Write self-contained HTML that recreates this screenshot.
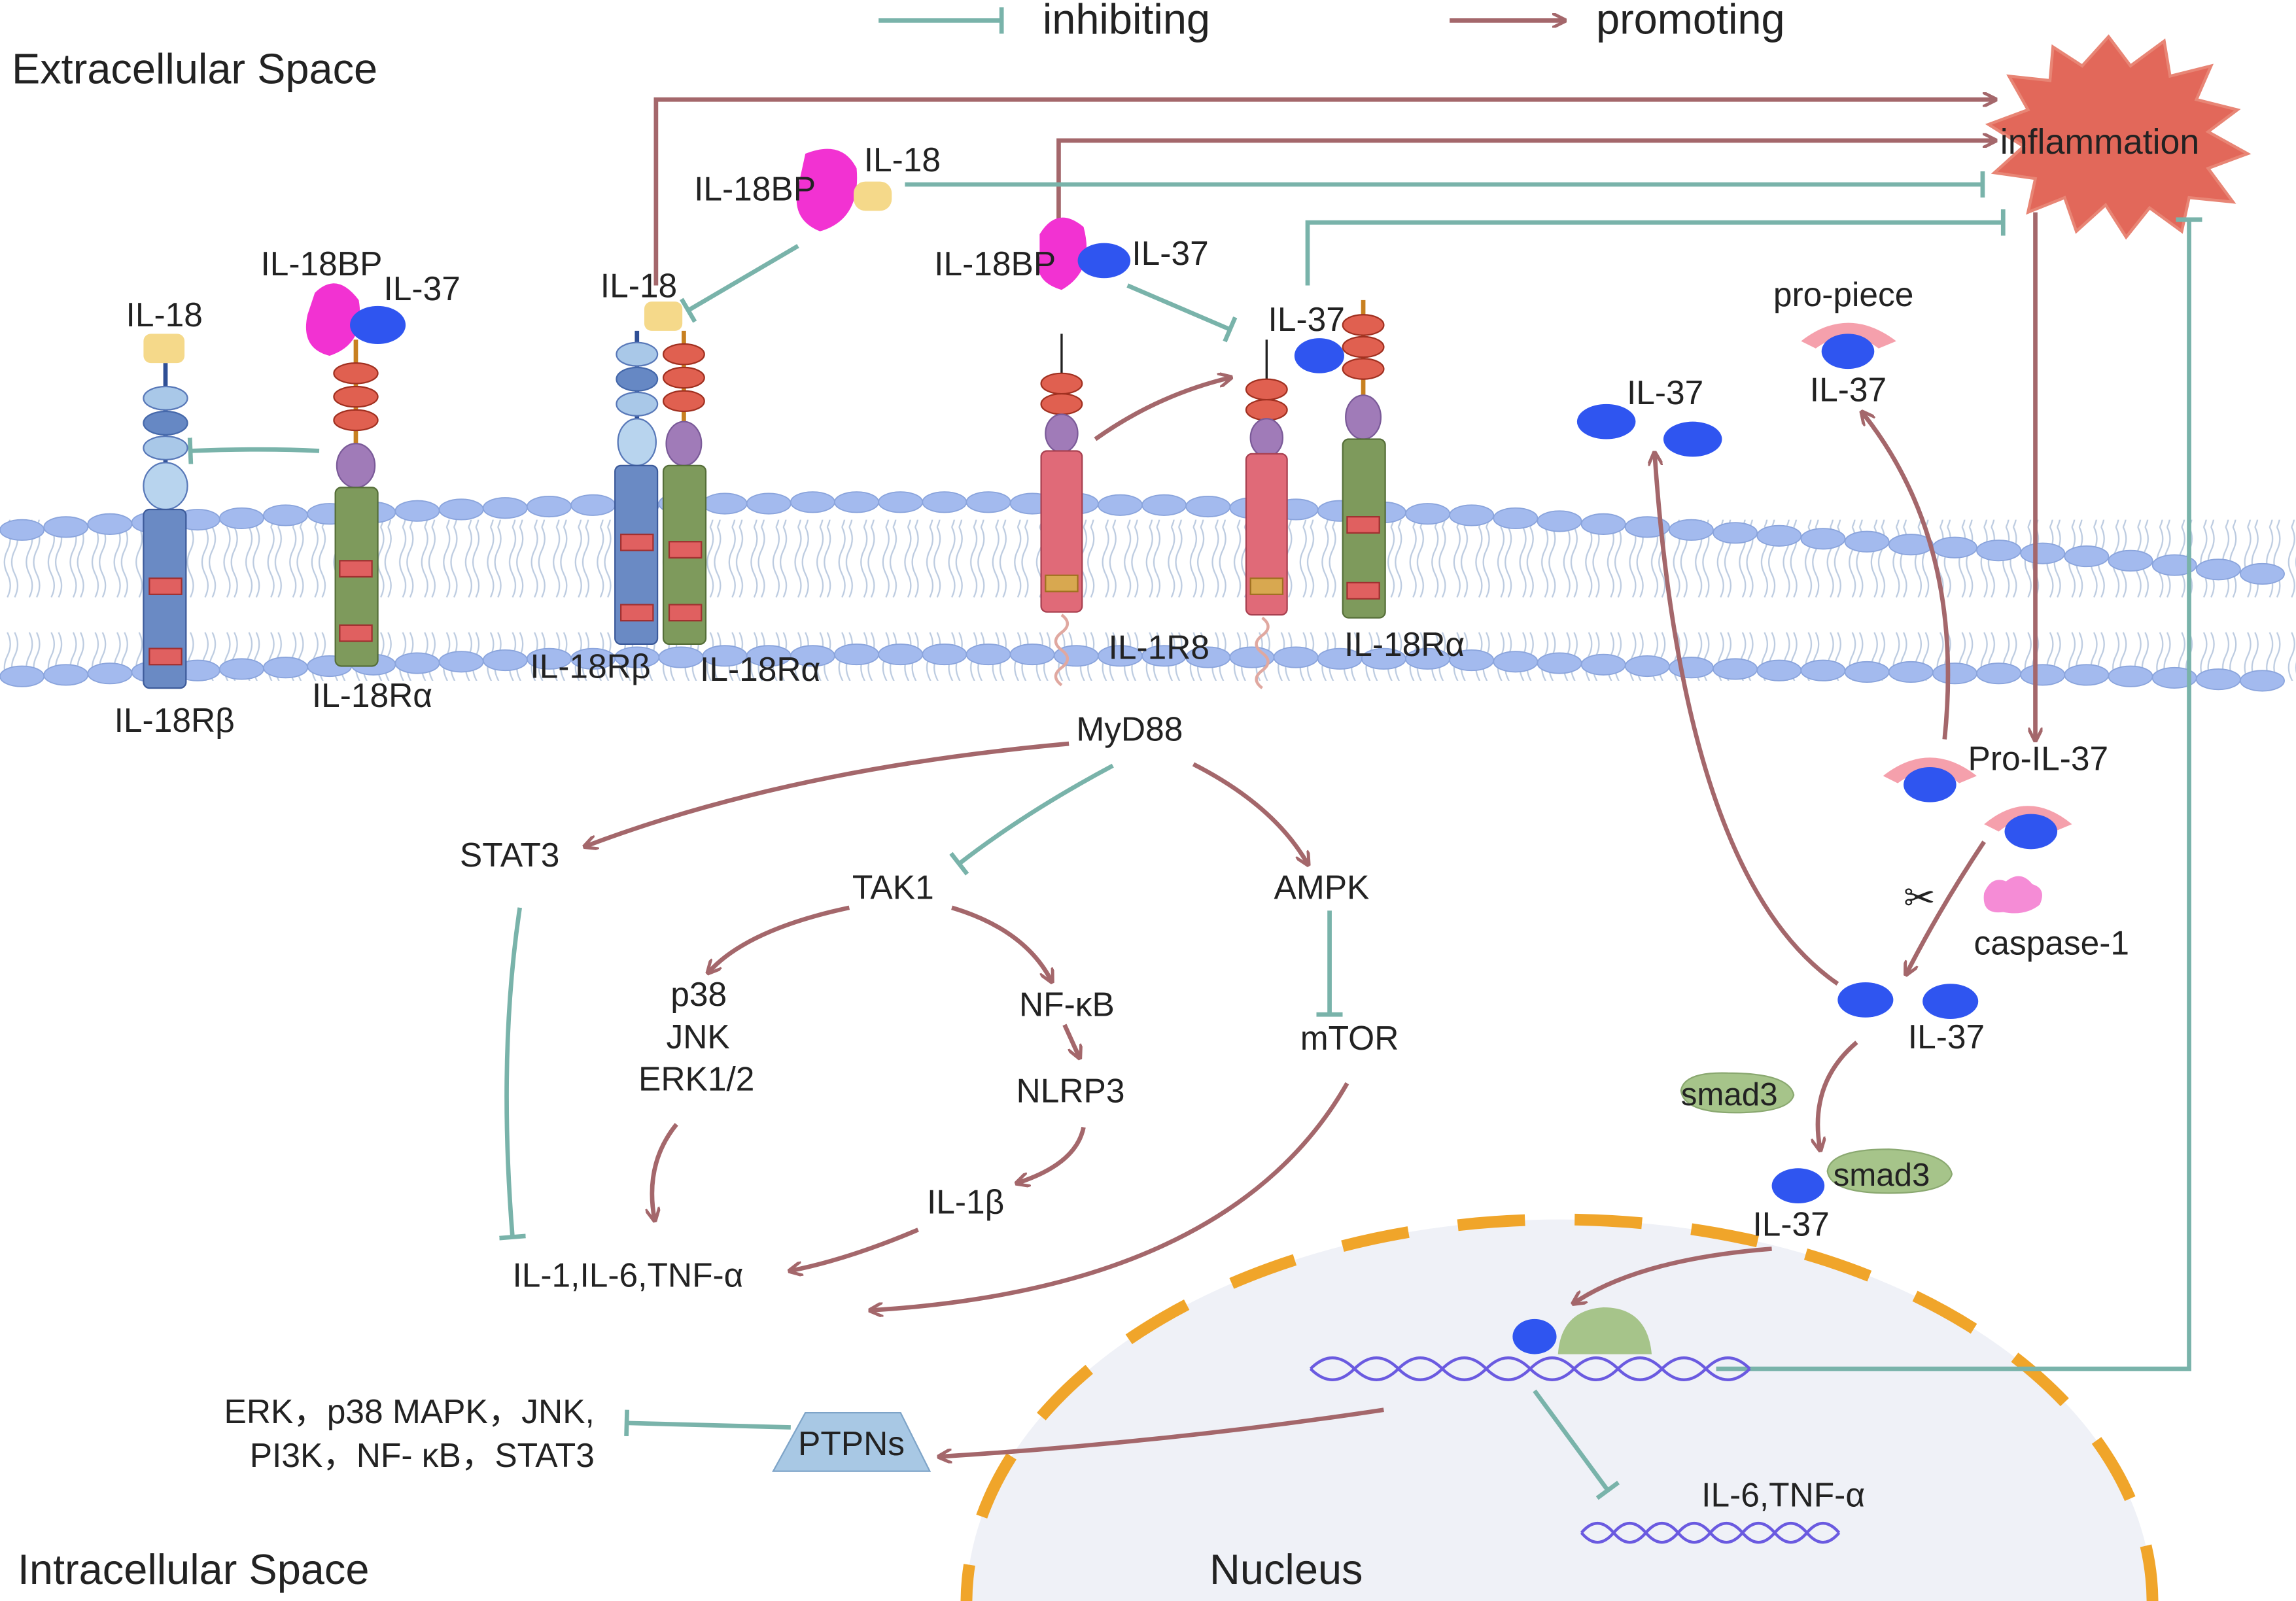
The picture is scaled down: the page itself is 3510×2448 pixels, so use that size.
<!DOCTYPE html>
<html><head><meta charset="utf-8"><style>
html,body{margin:0;padding:0;background:#fff;overflow:hidden;width:3510px;height:2448px;}
svg{display:block;}
text{font-family:"Liberation Sans",sans-serif;fill:#222;}
</style></head><body>
<svg width="3510" height="2448" viewBox="0 0 1568 1093.6" xmlns="http://www.w3.org/2000/svg">
<defs>
<marker id="pa" markerWidth="10" markerHeight="10" refX="8" refY="5" orient="auto" markerUnits="userSpaceOnUse" viewBox="0 0 10 10"><path d="M0,0 L10,5 L0,10" fill="none" stroke="#a4676b" stroke-width="2.2"/></marker>
<marker id="ia" markerWidth="4" markerHeight="18" refX="2" refY="9" orient="auto" markerUnits="userSpaceOnUse"><line x1="2" y1="0" x2="2" y2="18" stroke="#79b3aa" stroke-width="3"/></marker>
<pattern id="mem" width="15" height="120" patternUnits="userSpaceOnUse">
<path d="M5,0 q4,8 0,16 q-4,8 0,16 q4,8 0,16 M10,0 q4,8 0,16 q-4,8 0,16 q4,8 0,16 M5,72 q4,8 0,16 q-4,8 0,16 q4,8 0,16 M10,72 q4,8 0,16 q-4,8 0,16 q4,8 0,16" stroke="#bccbe0" stroke-width="1" fill="none"/>
</pattern>
</defs>
<rect width="1568" height="1094" fill="#fff"/>
<!-- membrane -->
<rect x="0" y="355" width="1568" height="110" fill="url(#mem)"/>
<g fill="#a3baee" stroke="#8aa4dc" stroke-width="0.8">
<ellipse cx="15" cy="362" rx="15" ry="7"/><ellipse cx="45" cy="360" rx="15" ry="7"/><ellipse cx="75" cy="358" rx="15" ry="7"/><ellipse cx="105" cy="357" rx="15" ry="7"/><ellipse cx="135" cy="355" rx="15" ry="7"/><ellipse cx="165" cy="354" rx="15" ry="7"/><ellipse cx="195" cy="352" rx="15" ry="7"/><ellipse cx="225" cy="351" rx="15" ry="7"/><ellipse cx="255" cy="350" rx="15" ry="7"/><ellipse cx="285" cy="349" rx="15" ry="7"/><ellipse cx="315" cy="348" rx="15" ry="7"/><ellipse cx="345" cy="347" rx="15" ry="7"/><ellipse cx="375" cy="346" rx="15" ry="7"/><ellipse cx="405" cy="345" rx="15" ry="7"/><ellipse cx="435" cy="345" rx="15" ry="7"/><ellipse cx="465" cy="344" rx="15" ry="7"/><ellipse cx="495" cy="344" rx="15" ry="7"/><ellipse cx="525" cy="344" rx="15" ry="7"/><ellipse cx="555" cy="343" rx="15" ry="7"/><ellipse cx="585" cy="343" rx="15" ry="7"/><ellipse cx="615" cy="343" rx="15" ry="7"/><ellipse cx="645" cy="343" rx="15" ry="7"/><ellipse cx="675" cy="343" rx="15" ry="7"/><ellipse cx="705" cy="344" rx="15" ry="7"/><ellipse cx="735" cy="344" rx="15" ry="7"/><ellipse cx="765" cy="345" rx="15" ry="7"/><ellipse cx="795" cy="345" rx="15" ry="7"/><ellipse cx="825" cy="346" rx="15" ry="7"/><ellipse cx="855" cy="347" rx="15" ry="7"/><ellipse cx="885" cy="348" rx="15" ry="7"/><ellipse cx="915" cy="349" rx="15" ry="7"/><ellipse cx="945" cy="350" rx="15" ry="7"/><ellipse cx="975" cy="351" rx="15" ry="7"/><ellipse cx="1005" cy="352" rx="15" ry="7"/><ellipse cx="1035" cy="354" rx="15" ry="7"/><ellipse cx="1065" cy="356" rx="15" ry="7"/><ellipse cx="1095" cy="358" rx="15" ry="7"/><ellipse cx="1125" cy="360" rx="15" ry="7"/><ellipse cx="1155" cy="362" rx="15" ry="7"/><ellipse cx="1185" cy="364" rx="15" ry="7"/><ellipse cx="1215" cy="366" rx="15" ry="7"/><ellipse cx="1245" cy="368" rx="15" ry="7"/><ellipse cx="1275" cy="370" rx="15" ry="7"/><ellipse cx="1305" cy="372" rx="15" ry="7"/><ellipse cx="1335" cy="374" rx="15" ry="7"/><ellipse cx="1365" cy="376" rx="15" ry="7"/><ellipse cx="1395" cy="378" rx="15" ry="7"/><ellipse cx="1425" cy="380" rx="15" ry="7"/><ellipse cx="1455" cy="383" rx="15" ry="7"/><ellipse cx="1485" cy="386" rx="15" ry="7"/><ellipse cx="1515" cy="389" rx="15" ry="7"/><ellipse cx="1545" cy="392" rx="15" ry="7"/>
<ellipse cx="15" cy="462" rx="15" ry="7"/><ellipse cx="45" cy="461" rx="15" ry="7"/><ellipse cx="75" cy="460" rx="15" ry="7"/><ellipse cx="105" cy="459" rx="15" ry="7"/><ellipse cx="135" cy="458" rx="15" ry="7"/><ellipse cx="165" cy="457" rx="15" ry="7"/><ellipse cx="195" cy="456" rx="15" ry="7"/><ellipse cx="225" cy="455" rx="15" ry="7"/><ellipse cx="255" cy="454" rx="15" ry="7"/><ellipse cx="285" cy="453" rx="15" ry="7"/><ellipse cx="315" cy="452" rx="15" ry="7"/><ellipse cx="345" cy="451" rx="15" ry="7"/><ellipse cx="375" cy="450" rx="15" ry="7"/><ellipse cx="405" cy="450" rx="15" ry="7"/><ellipse cx="435" cy="449" rx="15" ry="7"/><ellipse cx="465" cy="449" rx="15" ry="7"/><ellipse cx="495" cy="448" rx="15" ry="7"/><ellipse cx="525" cy="448" rx="15" ry="7"/><ellipse cx="555" cy="448" rx="15" ry="7"/><ellipse cx="585" cy="447" rx="15" ry="7"/><ellipse cx="615" cy="447" rx="15" ry="7"/><ellipse cx="645" cy="447" rx="15" ry="7"/><ellipse cx="675" cy="447" rx="15" ry="7"/><ellipse cx="705" cy="447" rx="15" ry="7"/><ellipse cx="735" cy="448" rx="15" ry="7"/><ellipse cx="765" cy="448" rx="15" ry="7"/><ellipse cx="795" cy="448" rx="15" ry="7"/><ellipse cx="825" cy="449" rx="15" ry="7"/><ellipse cx="855" cy="449" rx="15" ry="7"/><ellipse cx="885" cy="449" rx="15" ry="7"/><ellipse cx="915" cy="450" rx="15" ry="7"/><ellipse cx="945" cy="450" rx="15" ry="7"/><ellipse cx="975" cy="450" rx="15" ry="7"/><ellipse cx="1005" cy="451" rx="15" ry="7"/><ellipse cx="1035" cy="452" rx="15" ry="7"/><ellipse cx="1065" cy="453" rx="15" ry="7"/><ellipse cx="1095" cy="454" rx="15" ry="7"/><ellipse cx="1125" cy="455" rx="15" ry="7"/><ellipse cx="1155" cy="456" rx="15" ry="7"/><ellipse cx="1185" cy="457" rx="15" ry="7"/><ellipse cx="1215" cy="458" rx="15" ry="7"/><ellipse cx="1245" cy="458" rx="15" ry="7"/><ellipse cx="1275" cy="459" rx="15" ry="7"/><ellipse cx="1305" cy="459" rx="15" ry="7"/><ellipse cx="1335" cy="460" rx="15" ry="7"/><ellipse cx="1365" cy="460" rx="15" ry="7"/><ellipse cx="1395" cy="461" rx="15" ry="7"/><ellipse cx="1425" cy="461" rx="15" ry="7"/><ellipse cx="1455" cy="462" rx="15" ry="7"/><ellipse cx="1485" cy="463" rx="15" ry="7"/><ellipse cx="1515" cy="464" rx="15" ry="7"/><ellipse cx="1545" cy="465" rx="15" ry="7"/>
</g>
<!-- nucleus -->
<ellipse cx="1065" cy="1095" rx="405" ry="262" fill="#eff1f7" stroke="#f0a52a" stroke-width="8" stroke-dasharray="46,34"/>
<!-- legend -->
<line x1="600" y1="14" x2="684" y2="14" stroke="#79b3aa" stroke-width="3" marker-end="url(#ia)"/>
<text x="712" y="23" font-size="29">inhibiting</text>
<line x1="990" y1="14" x2="1068" y2="14" stroke="#a4676b" stroke-width="3" marker-end="url(#pa)"/>
<text x="1090" y="23" font-size="29">promoting</text>
<text x="8" y="57" font-size="29">Extracellular Space</text>
<text x="12" y="1082" font-size="29">Intracellular Space</text>
<text x="826" y="1082" font-size="29">Nucleus</text>
<!-- inflammation -->
<path d="M1440,25 L1455,45 L1478,28 L1482,52 L1510,45 L1500,68 L1528,75 L1508,90 L1535,105 L1508,115 L1525,138 L1495,135 L1490,158 L1468,142 L1452,162 L1438,140 L1418,158 L1410,135 L1385,145 L1390,122 L1362,118 L1382,100 L1358,85 L1385,75 L1372,52 L1400,55 L1402,32 L1422,45 Z" fill="#e2685a" stroke="#e88575" stroke-width="2"/>
<text x="1366" y="105" font-size="24">inflammation</text>
<!-- top connectors -->
<g fill="none" stroke-width="3">
<path d="M448,195 V68 H1362" stroke="#a4676b" marker-end="url(#pa)"/>
<path d="M723,150 V96 H1362" stroke="#a4676b" marker-end="url(#pa)"/>
<path d="M618,126 H1354" stroke="#79b3aa" marker-end="url(#ia)"/>
<path d="M893,195 V152 H1368" stroke="#79b3aa" marker-end="url(#ia)"/>
<path d="M1172,935 H1495 V150" stroke="#79b3aa" marker-end="url(#ia)"/>
<path d="M1390,145 V505" stroke="#a4676b" marker-end="url(#pa)"/>
<path d="M545,168 L470,212" stroke="#79b3aa" marker-end="url(#ia)"/>
<path d="M770,195 L840,225" stroke="#79b3aa" marker-end="url(#ia)"/>
<path d="M218,308 Q180,306 130,308" stroke="#79b3aa" marker-end="url(#ia)"/>
<path d="M748,300 Q790,270 840,258" stroke="#a4676b" marker-end="url(#pa)"/>
</g>
<!-- receptor 1 -->
<g>
<line x1="113" y1="248" x2="113" y2="350" stroke="#2f4f95" stroke-width="3"/>
<rect x="98" y="228" width="28" height="20" rx="5" fill="#f5d98a"/>
<ellipse cx="113" cy="272" rx="15" ry="8" fill="#a9c8e8" stroke="#5878b8"/>
<ellipse cx="113" cy="289" rx="15" ry="8" fill="#6688c4" stroke="#4568aa"/>
<ellipse cx="113" cy="306" rx="15" ry="8" fill="#a9c8e8" stroke="#5878b8"/>
<ellipse cx="113" cy="332" rx="15" ry="16" fill="#b8d4ee" stroke="#5878b8"/>
<rect x="98" y="348" width="29" height="122" rx="4" fill="#6a8ac4" stroke="#3c5a9a"/>
<rect x="102" y="395" width="22" height="11" fill="#e06060" stroke="#a03030"/>
<rect x="102" y="443" width="22" height="11" fill="#e06060" stroke="#a03030"/>
</g>
<text x="86" y="223" font-size="23">IL-18</text>
<text x="78" y="500" font-size="23">IL-18Rβ</text>
<!-- receptor 2 -->
<g>
<line x1="243" y1="232" x2="243" y2="330" stroke="#c88020" stroke-width="3"/>
<path d="M215,200 Q230,185 245,205 Q250,235 225,243 Q205,238 210,215Z" fill="#f232d2"/>
<ellipse cx="258" cy="222" rx="19" ry="13" fill="#2f55f0"/>
<ellipse cx="243" cy="255" rx="15" ry="7" fill="#e06050" stroke="#a03020"/>
<ellipse cx="243" cy="271" rx="15" ry="7" fill="#e06050" stroke="#a03020"/>
<ellipse cx="243" cy="287" rx="15" ry="7" fill="#e06050" stroke="#a03020"/>
<ellipse cx="243" cy="318" rx="13" ry="15" fill="#a07bb8" stroke="#7a5a98"/>
<rect x="229" y="333" width="29" height="122" rx="4" fill="#7e9a5c" stroke="#556e38"/>
<rect x="232" y="383" width="22" height="11" fill="#e06060" stroke="#a03030"/>
<rect x="232" y="427" width="22" height="11" fill="#e06060" stroke="#a03030"/>
</g>
<text x="178" y="188" font-size="23">IL-18BP</text>
<text x="262" y="205" font-size="23">IL-37</text>
<text x="213" y="483" font-size="23">IL-18Rα</text>
<!-- receptor 3 -->
<g>
<rect x="440" y="206" width="26" height="20" rx="5" fill="#f5d98a"/>
<line x1="435" y1="226" x2="435" y2="320" stroke="#2f4f95" stroke-width="3"/>
<line x1="467" y1="226" x2="467" y2="320" stroke="#c88020" stroke-width="3"/>
<ellipse cx="435" cy="242" rx="14" ry="8" fill="#a9c8e8" stroke="#5878b8"/>
<ellipse cx="435" cy="259" rx="14" ry="8" fill="#6688c4" stroke="#4568aa"/>
<ellipse cx="435" cy="276" rx="14" ry="8" fill="#a9c8e8" stroke="#5878b8"/>
<ellipse cx="435" cy="302" rx="13" ry="16" fill="#b8d4ee" stroke="#5878b8"/>
<rect x="420" y="318" width="29" height="122" rx="4" fill="#6a8ac4" stroke="#3c5a9a"/>
<rect x="424" y="365" width="22" height="11" fill="#e06060" stroke="#a03030"/>
<rect x="424" y="413" width="22" height="11" fill="#e06060" stroke="#a03030"/>
<ellipse cx="467" cy="242" rx="14" ry="7" fill="#e06050" stroke="#a03020"/>
<ellipse cx="467" cy="258" rx="14" ry="7" fill="#e06050" stroke="#a03020"/>
<ellipse cx="467" cy="274" rx="14" ry="7" fill="#e06050" stroke="#a03020"/>
<ellipse cx="467" cy="303" rx="12" ry="15" fill="#a07bb8" stroke="#7a5a98"/>
<rect x="453" y="318" width="29" height="122" rx="4" fill="#7e9a5c" stroke="#556e38"/>
<rect x="457" y="370" width="22" height="11" fill="#e06060" stroke="#a03030"/>
<rect x="457" y="413" width="22" height="11" fill="#e06060" stroke="#a03030"/>
</g>
<text x="410" y="203" font-size="23">IL-18</text>
<text x="362" y="463" font-size="23">IL-18Rβ</text>
<text x="478" y="465" font-size="23">IL-18Rα</text>
<!-- IL-18BP top -->
<path d="M550,105 Q575,95 585,115 Q588,150 560,158 Q540,150 545,128Z" fill="#f232d2"/>
<rect x="583" y="124" width="26" height="20" rx="8" fill="#f5d98a"/>
<text x="474" y="137" font-size="23">IL-18BP</text>
<text x="590" y="117" font-size="23">IL-18</text>
<path d="M710,160 Q722,140 740,155 Q748,185 725,198 Q705,192 710,175Z" fill="#f232d2"/>
<ellipse cx="754" cy="178" rx="18" ry="12" fill="#2f55f0"/>
<text x="638" y="188" font-size="23">IL-18BP</text>
<text x="773" y="181" font-size="23">IL-37</text>
<!-- IL-1R8 -->
<g>
<line x1="725" y1="228" x2="725" y2="258" stroke="#222" stroke-width="1.5"/>
<ellipse cx="725" cy="262" rx="14" ry="7" fill="#e06050" stroke="#a03020"/>
<ellipse cx="725" cy="276" rx="14" ry="7" fill="#e06050" stroke="#a03020"/>
<ellipse cx="725" cy="296" rx="11" ry="13" fill="#a07bb8" stroke="#7a5a98"/>
<rect x="711" y="308" width="28" height="110" rx="4" fill="#e06a78" stroke="#a84050"/>
<rect x="714" y="393" width="22" height="11" fill="#d8a850" stroke="#a07020"/>
<path d="M725,420 q8,6 0,12 q-8,6 0,12 q8,6 0,12 q-8,6 0,12" stroke="#e0a8a0" stroke-width="2" fill="none"/>
<line x1="865" y1="232" x2="865" y2="262" stroke="#222" stroke-width="1.5"/>
<ellipse cx="865" cy="266" rx="14" ry="7" fill="#e06050" stroke="#a03020"/>
<ellipse cx="865" cy="280" rx="14" ry="7" fill="#e06050" stroke="#a03020"/>
<ellipse cx="865" cy="299" rx="11" ry="13" fill="#a07bb8" stroke="#7a5a98"/>
<rect x="851" y="310" width="28" height="110" rx="4" fill="#e06a78" stroke="#a84050"/>
<rect x="854" y="395" width="22" height="11" fill="#d8a850" stroke="#a07020"/>
<path d="M862,422 q8,6 0,12 q-8,6 0,12 q8,6 0,12 q-8,6 0,12" stroke="#e0a8a0" stroke-width="2" fill="none"/>
<line x1="931" y1="205" x2="931" y2="280" stroke="#c88020" stroke-width="3"/>
<ellipse cx="901" cy="243" rx="17" ry="12" fill="#2f55f0"/>
<ellipse cx="931" cy="222" rx="14" ry="7" fill="#e06050" stroke="#a03020"/>
<ellipse cx="931" cy="237" rx="14" ry="7" fill="#e06050" stroke="#a03020"/>
<ellipse cx="931" cy="252" rx="14" ry="7" fill="#e06050" stroke="#a03020"/>
<ellipse cx="931" cy="285" rx="12" ry="15" fill="#a07bb8" stroke="#7a5a98"/>
<rect x="917" y="300" width="29" height="122" rx="4" fill="#7e9a5c" stroke="#556e38"/>
<rect x="920" y="353" width="22" height="11" fill="#e06060" stroke="#a03030"/>
<rect x="920" y="398" width="22" height="11" fill="#e06060" stroke="#a03030"/>
</g>
<text x="866" y="226" font-size="23">IL-37</text>
<text x="757" y="450" font-size="23">IL-1R8</text>
<text x="918" y="448" font-size="23">IL-18Rα</text>
<!-- right side -->
<ellipse cx="1097" cy="288" rx="20" ry="12" fill="#2f55f0"/>
<ellipse cx="1156" cy="300" rx="20" ry="12" fill="#2f55f0"/>
<text x="1111" y="276" font-size="23">IL-37</text>
<path d="M1230,233 Q1262,208 1295,233 L1283,238 Q1262,222 1240,238Z" fill="#f5a0ac"/>
<ellipse cx="1262" cy="240" rx="18" ry="12" fill="#2f55f0"/>
<text x="1211" y="209" font-size="23">pro-piece</text>
<text x="1236" y="274" font-size="23">IL-37</text>
<path d="M1286,530 Q1318,505 1350,530 L1338,535 Q1318,519 1296,535Z" fill="#f5a0ac"/>
<ellipse cx="1318" cy="536" rx="18" ry="12" fill="#2f55f0"/>
<path d="M1355,563 Q1385,538 1415,563 L1403,568 Q1385,552 1365,568Z" fill="#f5a0ac"/>
<ellipse cx="1387" cy="568" rx="18" ry="12" fill="#2f55f0"/>
<text x="1344" y="526" font-size="23">Pro-IL-37</text>
<path d="M1355,610 q5,-12 15,-8 q10,-8 18,2 q10,3 5,14 q-10,8 -25,5 q-15,2 -13,-13Z" fill="#f58cd6"/>
<text x="1348" y="652" font-size="23">caspase-1</text>
<text x="1300" y="622" font-size="26" fill="#445">✂</text>
<ellipse cx="1274" cy="683" rx="19" ry="12" fill="#2f55f0"/>
<ellipse cx="1332" cy="684" rx="19" ry="12" fill="#2f55f0"/>
<text x="1303" y="716" font-size="23">IL-37</text>
<path d="M1148,745 Q1150,732 1180,733 Q1222,733 1225,748 Q1222,760 1185,760 Q1150,760 1148,745Z" fill="#a6c48a" stroke="#8aa870"/>
<text x="1148" y="755" font-size="22">smad3</text>
<path d="M1248,800 Q1250,785 1290,785 Q1330,787 1333,802 Q1330,815 1290,815 Q1250,815 1248,800Z" fill="#a6c48a" stroke="#8aa870"/>
<text x="1252" y="810" font-size="22">smad3</text>
<ellipse cx="1228" cy="810" rx="18" ry="12" fill="#2f55f0"/>
<text x="1197" y="844" font-size="23">IL-37</text>
<g fill="none" stroke="#a4676b" stroke-width="3">
<path d="M1328,505 Q1342,370 1272,282" marker-end="url(#pa)"/>
<path d="M1255,672 Q1150,600 1130,310" marker-end="url(#pa)"/>
<path d="M1355,575 Q1325,620 1302,665" marker-end="url(#pa)"/>
<path d="M1268,712 Q1235,740 1243,785" marker-end="url(#pa)"/>
<path d="M1210,853 Q1120,860 1075,890" marker-end="url(#pa)"/>
<path d="M945,963 Q800,985 642,995" marker-end="url(#pa)"/>
</g>
<!-- intracellular -->
<text x="735" y="506" font-size="23">MyD88</text>
<text x="314" y="592" font-size="23">STAT3</text>
<text x="582" y="614" font-size="23">TAK1</text>
<text x="870" y="614" font-size="23">AMPK</text>
<text x="458" y="687" font-size="23">p38</text>
<text x="455" y="716" font-size="23">JNK</text>
<text x="436" y="745" font-size="23">ERK1/2</text>
<text x="696" y="694" font-size="23">NF-κB</text>
<text x="694" y="753" font-size="23">NLRP3</text>
<text x="888" y="717" font-size="23">mTOR</text>
<text x="633" y="829" font-size="23">IL-1β</text>
<text x="350" y="879" font-size="23">IL-1,IL-6,TNF-α</text>
<g fill="none" stroke-width="3">
<path d="M730,508 Q540,525 400,578" stroke="#a4676b" marker-end="url(#pa)"/>
<path d="M760,523 Q700,555 655,590" stroke="#79b3aa" marker-end="url(#ia)"/>
<path d="M815,522 Q870,550 893,590" stroke="#a4676b" marker-end="url(#pa)"/>
<path d="M580,620 Q510,635 484,664" stroke="#a4676b" marker-end="url(#pa)"/>
<path d="M650,620 Q700,635 718,670" stroke="#a4676b" marker-end="url(#pa)"/>
<path d="M727,700 L737,722" stroke="#a4676b" marker-end="url(#pa)"/>
<path d="M908,622 V693" stroke="#79b3aa" marker-end="url(#ia)"/>
<path d="M740,770 Q735,795 695,808" stroke="#a4676b" marker-end="url(#pa)"/>
<path d="M355,620 Q340,720 350,845" stroke="#79b3aa" marker-end="url(#ia)"/>
<path d="M462,768 Q440,795 447,833" stroke="#a4676b" marker-end="url(#pa)"/>
<path d="M627,840 Q580,860 540,868" stroke="#a4676b" marker-end="url(#pa)"/>
<path d="M920,740 Q840,880 595,895" stroke="#a4676b" marker-end="url(#pa)"/>
<path d="M540,975 L428,972" stroke="#79b3aa" marker-end="url(#ia)"/>
<path d="M1048,950 L1098,1018" stroke="#79b3aa" marker-end="url(#ia)"/>
</g>
<path d="M550,965 L615,965 L635,1005 L528,1005Z" fill="#a8c8e4" stroke="#7ea4c8"/>
<text x="545" y="994" font-size="23">PTPNs</text>
<text x="406" y="972" font-size="23" text-anchor="end">ERK，p38 MAPK，JNK,</text>
<text x="406" y="1002" font-size="23" text-anchor="end">PI3K，NF- κB，STAT3</text>
<!-- DNA -->
<g fill="none" stroke="#6a5ae0" stroke-width="2">
<path d="M895,935 q15,-15 30,0 q15,15 30,0 q15,-15 30,0 q15,15 30,0 q15,-15 30,0 q15,15 30,0 q15,-15 30,0 q15,15 30,0 q15,-15 30,0 q15,15 30,0"/>
<path d="M895,935 q15,15 30,0 q15,-15 30,0 q15,15 30,0 q15,-15 30,0 q15,15 30,0 q15,-15 30,0 q15,15 30,0 q15,-15 30,0 q15,15 30,0 q15,-15 30,0"/>
<path d="M1080,1047 q11,-13 22,0 q11,13 22,0 q11,-13 22,0 q11,13 22,0 q11,-13 22,0 q11,13 22,0 q11,-13 22,0 q11,13 22,0"/>
<path d="M1080,1047 q11,13 22,0 q11,-13 22,0 q11,13 22,0 q11,-13 22,0 q11,13 22,0 q11,-13 22,0 q11,13 22,0 q11,-13 22,0"/>
</g>
<ellipse cx="1048" cy="913" rx="15" ry="12" fill="#2f55f0"/>
<path d="M1064,925 Q1066,895 1095,893 Q1125,893 1128,925Z" fill="#a6c48a"/>
<text x="1162" y="1029" font-size="23">IL-6,TNF-α</text>
</svg>
</body></html>
